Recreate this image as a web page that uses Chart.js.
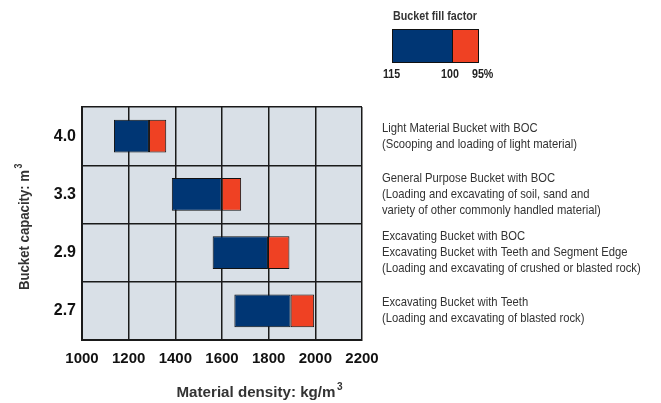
<!DOCTYPE html>
<html>
<head>
<meta charset="utf-8">
<script src="https://cdn.jsdelivr.net/npm/chart.js@4"></script>
<style>
html,body{margin:0;padding:0;background:#fff;}
#wrap{position:relative;width:661px;height:403px;}
</style>
</head>
<body>
<div id="wrap"><canvas id="c" width="661" height="403"></canvas></div>
<script>
const capacities = ['4.0', '3.3', '2.9', '2.7'];
const density115 = [1137, 1385, 1560, 1653];
const density100 = [1287, 1599, 1797, 1894];
const density95  = [1361, 1682, 1889, 1995];
const xTicks = [1000, 1200, 1400, 1600, 1800, 2000, 2200];
const fillFactors = ['115', '100', '95%'];
const descriptions = [
  ['Light Material Bucket with BOC', '(Scooping and loading of light material)'],
  ['General Purpose Bucket with BOC', '(Loading and excavating of soil, sand and', 'variety of other commonly handled material)'],
  ['Excavating Bucket with BOC', 'Excavating Bucket with Teeth and Segment Edge', '(Loading and excavating of crushed or blasted rock)'],
  ['Excavating Bucket with Teeth', '(Loading and excavating of blasted rock)']
];

const BLUE = '#003674';
const RED = '#ef4123';
const SANS = '"Liberation Sans", Arial, Helvetica, sans-serif';

// draw horizontally condensed text (to imitate a condensed face)
function ctext(ctx, text, x, y, sx, align) {
  ctx.save();
  ctx.translate(x, y);
  ctx.scale(sx, 1);
  ctx.textAlign = align || 'left';
  ctx.fillText(text, 0, 0);
  ctx.restore();
  return ctx.measureText(text).width * sx;
}

const extras = {
  id: 'extras',
  beforeDraw(chart) {
    const {ctx, chartArea: a} = chart;
    ctx.save();
    ctx.fillStyle = '#d9e0e7';
    ctx.fillRect(a.left, a.top, a.right - a.left, a.bottom - a.top);
    ctx.restore();
  },
  afterDraw(chart) {
    const {ctx, chartArea: a} = chart;
    const ys = chart.scales.y;
    ctx.save();
    ctx.textBaseline = 'middle';
    // descriptions
    ctx.fillStyle = '#333';
    ctx.font = '13px ' + SANS;
    const sxD = 245.6 / ctx.measureText(descriptions[2][1]).width;
    const lh = 16;
    descriptions.forEach((lines, i) => {
      const cy = ys.getPixelForValue(i);
      const y0 = cy - (lines.length - 1) * lh / 2;
      lines.forEach((t, k) => ctext(ctx, t, a.right + 20, y0 + k * lh, sxD));
    });
    // x title
    ctx.font = 'bold 15px ' + SANS;
    const xt = 'Material density: kg/m';
    const sxX = 159 / ctx.measureText(xt).width;
    const xl = 176.5;
    const xw = ctext(ctx, xt, xl, 392.5, sxX);
    ctx.font = 'bold 10px ' + SANS;
    ctext(ctx, '3', xl + xw + 1.5, 387, sxX);
    // y title
    ctx.save();
    ctx.translate(25, 290);
    ctx.rotate(-Math.PI / 2);
    ctx.font = 'bold 15px ' + SANS;
    const yt = 'Bucket capacity: m';
    const sxY = 120 / ctx.measureText(yt).width;
    const yw = ctext(ctx, yt, 0, 0, sxY);
    ctx.font = 'bold 10px ' + SANS;
    ctext(ctx, '3', yw + 1.5, -5.5, sxY);
    ctx.restore();
    // legend key
    const kx = 392, ky = 29, kw = 86, kh = 33, kb = 60;
    ctx.fillStyle = '#333';
    ctx.font = 'bold 12px ' + SANS;
    const sxL = 84 / ctx.measureText('Bucket fill factor').width;
    ctext(ctx, 'Bucket fill factor', kx + kw / 2, 16.5, sxL, 'center');
    ctx.fillStyle = BLUE;
    ctx.fillRect(kx, ky, kb, kh);
    ctx.fillStyle = RED;
    ctx.fillRect(kx + kb, ky, kw - kb, kh);
    ctx.strokeStyle = '#111';
    ctx.lineWidth = 1;
    ctx.strokeRect(kx + 0.5, ky + 0.5, kw, kh);
    ctx.beginPath();
    ctx.moveTo(kx + kb + 0.5, ky);
    ctx.lineTo(kx + kb + 0.5, ky + kh);
    ctx.stroke();
    ctx.fillStyle = '#222';
    ctx.font = 'bold 13px ' + SANS;
    ctext(ctx, fillFactors[0], kx - 0.5, 74, 0.82, 'center');
    ctext(ctx, fillFactors[1], kx + kb - 2, 74, 0.82, 'center');
    ctext(ctx, fillFactors[2], kx + kw - 6, 74, 0.82, 'left');
    ctx.restore();
  }
};

new Chart(document.getElementById('c'), {
  type: 'bar',
  data: {
    labels: capacities,
    datasets: [
      {
        label: '115-100',
        data: capacities.map((c, i) => [density115[i], density100[i]]),
        backgroundColor: BLUE,
        borderColor: '#111',
        borderWidth: 1,
        borderSkipped: false,
        grouped: false,
        barPercentage: 1,
        categoryPercentage: 0.56
      },
      {
        label: '100-95',
        data: capacities.map((c, i) => [density100[i], density95[i]]),
        backgroundColor: RED,
        borderColor: '#111',
        borderWidth: 1,
        borderSkipped: false,
        grouped: false,
        barPercentage: 1,
        categoryPercentage: 0.56
      }
    ]
  },
  options: {
    indexAxis: 'y',
    responsive: false,
    animation: false,
    devicePixelRatio: 1,
    layout: {padding: {left: 0, right: 299, top: 107, bottom: 0}},
    plugins: {legend: {display: false}, tooltip: {enabled: false}},
    scales: {
      x: {
        type: 'linear',
        min: xTicks[0],
        max: xTicks[xTicks.length - 1],
        afterBuildTicks: s => { s.ticks = xTicks.map(v => ({value: v})); },
        afterFit: s => { s.height = 63; },
        grid: {color: '#1a1a1a', lineWidth: 1.5, drawTicks: false},
        border: {color: '#1a1a1a', width: 2},
        ticks: {
          padding: 10,
          maxRotation: 0,
          minRotation: 0,
          autoSkip: false,
          color: '#111',
          callback: v => String(v),
          font: {family: SANS, size: 15, weight: 'bold'}
        }
      },
      y: {
        type: 'category',
        afterFit: s => { s.width = 82; },
        grid: {color: '#1a1a1a', lineWidth: 1.5, drawTicks: false, offset: true},
        border: {color: '#1a1a1a', width: 2},
        ticks: {
          padding: 6,
          color: '#111',
          font: {family: SANS, size: 16, weight: 'bold'}
        }
      }
    }
  },
  plugins: [extras]
});
</script>
</body>
</html>
